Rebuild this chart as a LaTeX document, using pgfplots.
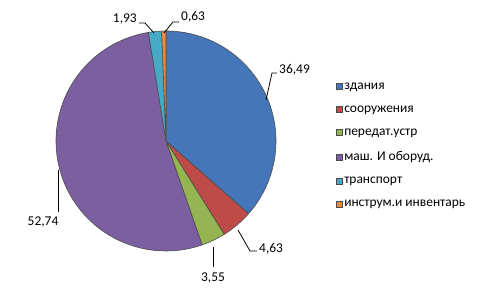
\documentclass[border=0pt]{standalone}
\usepackage{fontspec}
\setmainfont{Carlito}
\usepackage{pgfplots}
\pgfplotsset{compat=1.18}
\definecolor{c1}{HTML}{4576BA}
\definecolor{c2}{HTML}{BE4B48}
\definecolor{c3}{HTML}{94B552}
\definecolor{c4}{HTML}{7B5FA0}
\definecolor{c5}{HTML}{46AAC5}
\definecolor{c6}{HTML}{F08A3A}
\newcommand\lbl{\fontsize{13.5}{15}\selectfont}
% slice values: 36.49, 4.63, 3.55, 52.74, 1.93, 0.63 (sum 99.97)
\newcommand\slice[3]{%
  \addplot[fill=#3, draw=black!70, line width=0.6bp, domain={#1*360/99.97}:{#2*360/99.97}, samples=80, variable=\t]
    ({166+110*sin(\t)},{148+110*cos(\t)}) -- (166,148) -- cycle;}
\begin{document}
\begin{tikzpicture}
\begin{axis}[width=482bp,height=289bp,scale only axis,
  xmin=0,xmax=482,ymin=0,ymax=289,axis lines=none,clip=false,
  legend style={at={(0.697,0.72)},anchor=north west,draw=none,fill=none,
    font=\fontsize{13.5}{15}\selectfont,row sep=12bp,inner sep=0pt,
    nodes={inner sep=1.5bp}},
  legend cell align=left,
  legend image code/.code={\fill[#1] (0bp,-3bp) rectangle (6bp,3bp);}]
\path (0,0) rectangle (482,289);
\slice{0}{36.49}{c1}\addlegendentry{здания}
\slice{36.49}{41.12}{c2}\addlegendentry{сооружения}
\slice{41.12}{44.67}{c3}\addlegendentry{передат.устр}
\slice{44.67}{97.41}{c4}\addlegendentry{маш. И оборуд.}
\slice{97.41}{99.34}{c5}\addlegendentry{транспорт}
\slice{99.34}{99.97}{c6}\addlegendentry{инструм.и инвентарь}
% leader lines
\addplot[black, line width=0.8bp, forget plot] coordinates {(266,189) (272,216) (277,216)};
\addplot[black, line width=0.8bp, forget plot] coordinates {(238,59) (250,38) (257,38)};
\addplot[black, line width=0.8bp, forget plot] coordinates {(213,42) (213,22)};
\addplot[black, line width=0.8bp, forget plot] coordinates {(58,119) (58,77)};
\addplot[black, line width=0.8bp, forget plot] coordinates {(139,266) (145,266) (154,256)};
\addplot[black, line width=0.8bp, forget plot] coordinates {(179,267) (173,267) (164,256)};
\node[anchor=west,inner sep=1bp,font=\lbl] at (278,219) {36,49};
\node[anchor=west,inner sep=1bp,font=\lbl] at (258,40) {4,63};
\node[inner sep=1bp,font=\lbl] at (213,11) {3,55};
\node[inner sep=1bp,font=\lbl] at (43,67) {52,74};
\node[anchor=east,inner sep=1bp,font=\lbl] at (138,270) {1,93};
\node[anchor=west,inner sep=1bp,font=\lbl] at (180,272) {0,63};
\end{axis}
\end{tikzpicture}
\end{document}
